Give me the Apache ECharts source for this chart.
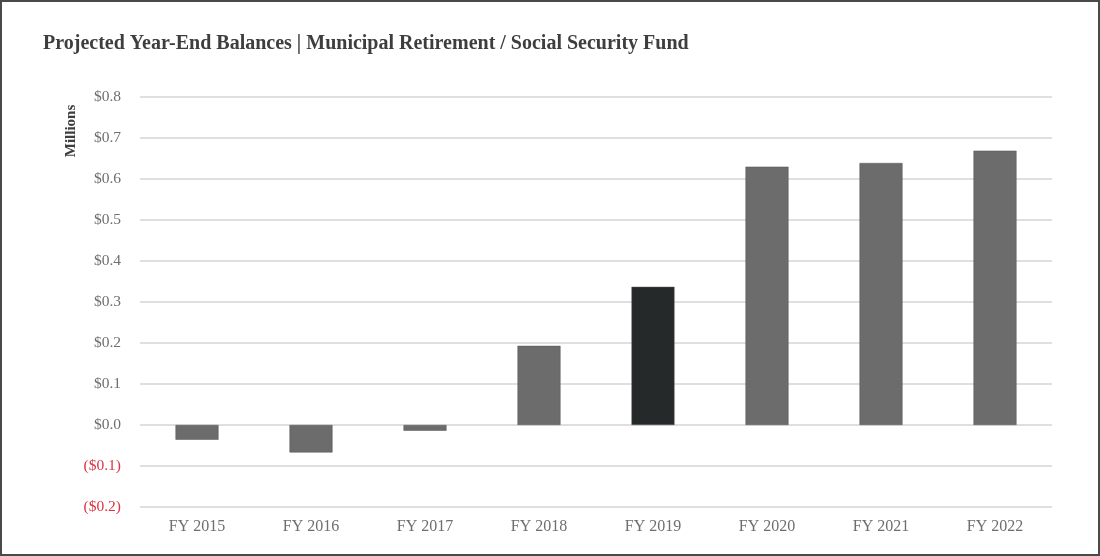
<!DOCTYPE html>
<html>
<head>
<meta charset="utf-8">
<script src="https://cdn.jsdelivr.net/npm/echarts@6/dist/echarts.min.js"></script>
<style>
  html, body { margin: 0; padding: 0; background: #fff; }
  #frame { position: absolute; left: 0; top: 0; width: 1100px; height: 556px; box-sizing: border-box; border: 2px solid #4a4a4a; pointer-events: none; }
  #chart { position: absolute; left: 0; top: 0; width: 1100px; height: 556px; }
</style>
</head>
<body>
<div id="chart"></div>
<div id="frame"></div>
<script>
// Fiscal years on the category axis
const categories = ['FY 2015', 'FY 2016', 'FY 2017', 'FY 2018', 'FY 2019', 'FY 2020', 'FY 2021', 'FY 2022'];
// Projected year-end balances, in millions of dollars
const balances = [-0.036, -0.067, -0.014, 0.193, 0.337, 0.630, 0.639, 0.669];
// The current year's bar is drawn darker
const highlightYear = 'FY 2019';
// Value axis range and step
const yMin = -0.2;
const yMax = 0.8;
const yStep = 0.1;

const baseColor = '#6c6c6c';
const highlightColor = '#262929';
const serif = '"Liberation Serif", "DejaVu Serif", serif';

function moneyLabel(v) {
  if (Math.abs(v) < 1e-9) return '{pos|$0.0}';
  if (v < 0) return '{neg|($' + Math.abs(v).toFixed(1) + ')}';
  return '{pos|$' + v.toFixed(1) + '}';
}

const chart = echarts.init(document.getElementById('chart'));
chart.setOption({
  animation: false,
  backgroundColor: '#fff',
  title: {
    text: 'Projected Year-End Balances | Municipal Retirement / Social Security Fund',
    left: 38,
    top: 29,
    textStyle: { fontFamily: serif, fontWeight: 'bold', fontSize: 20, color: '#3e3e3e' }
  },
  grid: { left: 140, right: 48, top: 97, bottom: 49 },
  xAxis: {
    type: 'category',
    data: categories,
    axisLine: { show: false },
    axisTick: { show: false },
    axisLabel: { fontFamily: serif, fontSize: 16, color: '#6e6e6e', margin: 12 }
  },
  yAxis: {
    type: 'value',
    min: yMin,
    max: yMax,
    interval: yStep,
    axisLine: { show: false },
    axisTick: { show: false },
    splitLine: { lineStyle: { color: '#d4d4d4', width: 1.5 } },
    axisLabel: {
      margin: 19,
      formatter: moneyLabel,
      rich: {
        pos: { fontFamily: serif, fontSize: 15.5, color: '#6e6e6e' },
        neg: { fontFamily: serif, fontSize: 15.5, color: '#dc3345' }
      }
    }
  },
  graphic: [{
    // Unit label for the value axis, reading bottom to top
    type: 'text',
    x: 71,
    y: 131,
    rotation: Math.PI / 2,
    style: {
      text: 'Millions',
      fontFamily: serif,
      fontWeight: 'bold',
      fontSize: 15,
      fill: '#3e3e3e',
      align: 'center',
      verticalAlign: 'middle'
    }
  }],
  series: [{
    type: 'bar',
    barWidth: 43,
    data: balances.map((v, i) => ({
      value: v,
      itemStyle: {
        color: categories[i] === highlightYear ? highlightColor : baseColor,
        borderColor: '#555',
        borderWidth: 0.5
      }
    }))
  }]
});
</script>
</body>
</html>
